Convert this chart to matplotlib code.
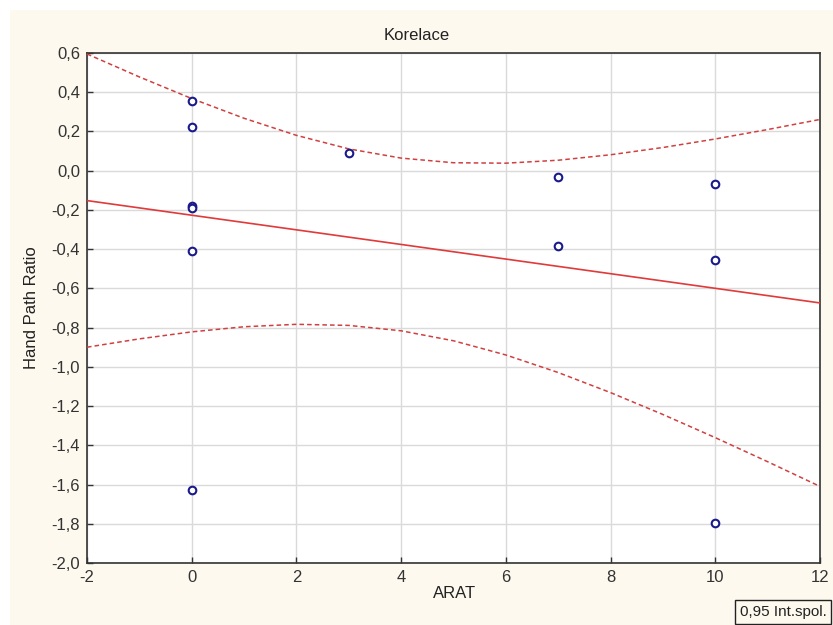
import numpy as np
import matplotlib.pyplot as plt
from matplotlib.patches import Rectangle
from matplotlib.ticker import FuncFormatter

plt.rcParams['font.family'] = ['Liberation Sans', 'DejaVu Sans']
plt.rcParams['axes.unicode_minus'] = False

# ARAT score vs Hand Path Ratio
arat = [0, 0, 0, 0, 0, 0, 3, 7, 7, 10, 10, 10]
hpr = [0.355, 0.225, -0.18, -0.19, -0.41, -1.63, 0.09, -0.03, -0.385, -0.07, -0.455, -1.795]

x_ticks = [-2, 0, 2, 4, 6, 8, 10, 12]
y_ticks = [0.6, 0.4, 0.2, 0.0, -0.2, -0.4, -0.6, -0.8, -1.0, -1.2, -1.4, -1.6, -1.8, -2.0]

# linear fit with 95% confidence band for the mean
x = np.array(arat, dtype=float)
y = np.array(hpr)
n = len(x)
slope, intercept = np.polyfit(x, y, 1)
resid = y - (intercept + slope * x)
s = np.sqrt(np.sum(resid ** 2) / (n - 2))
t_crit = 2.228  # t(0.975, df=10)
sxx = np.sum((x - x.mean()) ** 2)
xs = np.linspace(-2, 12, 15)
fit = intercept + slope * xs
half = t_crit * s * np.sqrt(1.0 / n + (xs - x.mean()) ** 2 / sxx)

fig = plt.figure(figsize=(8.33, 6.25), dpi=100, facecolor='white')
fig.patches.append(Rectangle((10 / 833, 0), 1, 1 - 10 / 625, transform=fig.transFigure,
                             facecolor='#fdf9ef', edgecolor='none', zorder=-10))

ax = fig.add_axes([87 / 833, 1 - 563 / 625, (820 - 87) / 833, (563 - 53) / 625])
ax.set_facecolor('white')

ax.plot(xs, fit, color='#e03a3a', lw=1.2, zorder=3)
ax.plot(xs, fit + half, color='#d04040', lw=1.1, ls=(0, (3, 2)), zorder=3)
ax.plot(xs, fit - half, color='#d04040', lw=1.1, ls=(0, (3, 2)), zorder=3)
ax.scatter(arat, hpr, s=30, facecolors='white', edgecolors='#1a1a8c', linewidths=1.5, zorder=4)

ax.set_xlim(-2, 12)
ax.set_ylim(-2.0, 0.6)
ax.set_xticks(x_ticks)
ax.set_yticks(y_ticks)
ax.yaxis.set_major_formatter(FuncFormatter(lambda v, p: f"{v:.1f}".replace('.', ',').replace('-0,0', '0,0')))
ax.tick_params(direction='in', length=4, width=1, labelsize=12, colors='#333333', pad=5)
ax.grid(True, color='#dadada', lw=1)
ax.set_axisbelow(True)
for sp in ax.spines.values():
    sp.set_color('#333333')
    sp.set_linewidth(1.2)

fig.text(0.5, 1 - 35 / 625, 'Korelace', ha='center', va='center', fontsize=12, color='#222222')
fig.text(455 / 833, 1 - 593 / 625, 'ARAT', ha='center', va='center', fontsize=12, color='#222222')
fig.text(32 / 833, 1 - 308 / 625, 'Hand Path Ratio', ha='center', va='center', rotation=90,
         fontsize=12, color='#222222')
fig.text(783 / 833, 1 - 612 / 625, '0,95 Int.spol.', ha='center', va='center', fontsize=11,
         color='#222222', bbox=dict(boxstyle='square,pad=0.3', facecolor='#fdf9ef', edgecolor='#222222'))

fig.savefig('out.png', dpi=100, facecolor=fig.get_facecolor())
